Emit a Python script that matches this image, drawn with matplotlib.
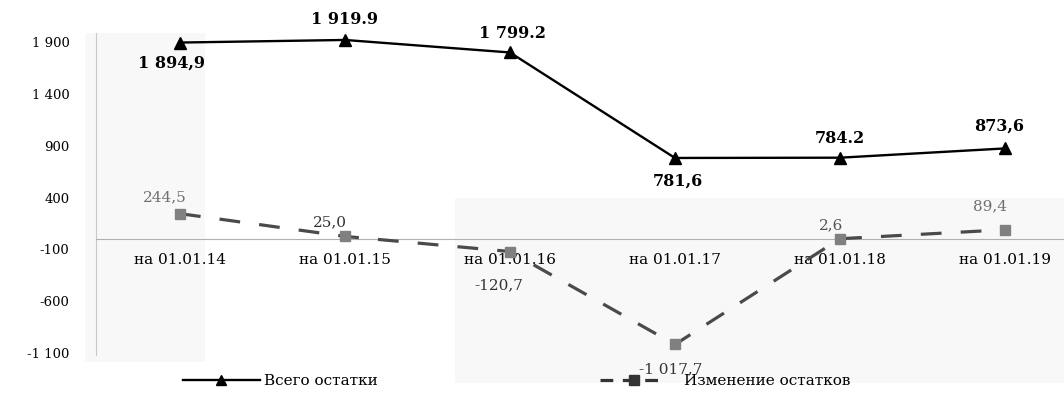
import matplotlib
matplotlib.use("Agg")
import matplotlib.pyplot as plt
from matplotlib.lines import Line2D
from matplotlib.patches import Rectangle

categories = ["на 01.01.14", "на 01.01.15", "на 01.01.16", "на 01.01.17", "на 01.01.18", "на 01.01.19"]
total = [1894.9, 1919.9, 1799.2, 781.6, 784.2, 873.6]
change = [244.5, 25.0, -120.7, -1017.7, 2.6, 89.4]
total_labels = ["1 894,9", "1 919.9", "1 799.2", "781,6", "784.2", "873,6"]
change_labels = ["244,5", "25,0", "-120,7", "-1 017,7", "2,6", "89,4"]
yticks = [1900, 1400, 900, 400, -100, -600, -1100]
ytick_labels = ["1 900", "1 400", "900", "400", "-100", "-600", "-1 100"]
series_names = ["Всего остатки", "Изменение остатков"]

plt.rcParams["font.family"] = ["DejaVu Serif", "Liberation Serif"]

W, H = 1064, 394
fig = plt.figure(figsize=(W / 100, H / 100), dpi=100)

# faint scan-like background panels
fig.patches.append(Rectangle((85 / W, 1 - 362 / H), 120 / W, 329 / H, transform=fig.transFigure,
                             facecolor="#f8f8f8", edgecolor="none", zorder=-5))
fig.patches.append(Rectangle((455 / W, 1 - 383 / H), (W - 455) / W, 185 / H, transform=fig.transFigure,
                             facecolor="#f8f8f8", edgecolor="none", zorder=-5))

ax = fig.add_axes([96 / W, 1 - 355 / H, (W - 96) / W, 322 / H])
ax.patch.set_alpha(0)

x = list(range(len(categories)))
ax.plot(x, total, color="black", lw=1.7, marker="^", ms=8, zorder=3)
ax.plot(x, change, color="#4a4a4a", lw=2.3, ls=(0, (6.5, 6)), marker="s", ms=7,
        markerfacecolor="#808080", markeredgecolor="#808080", zorder=3)

ax.set_xlim(-0.509, 5.358)
ax.set_ylim(-1119, 1987)
ax.set_yticks(yticks)
ax.set_yticklabels(ytick_labels)
ax.tick_params(axis="y", length=0, pad=19, labelsize=9.5)
ax.set_xticks(x)
ax.set_xticklabels(categories)
ax.tick_params(axis="x", length=0, pad=10, labelsize=11)

for s in ["top", "right"]:
    ax.spines[s].set_visible(False)
ax.spines["bottom"].set_position(("data", 0))
ax.spines["bottom"].set_color("#b0b0b0")
ax.spines["left"].set_color("#c8c8c8")

t_off = [(-6, -15), (0, 15), (2, 14), (2, -17), (0, 14), (-4, 16)]
for xi, v, lab, (dx, dy) in zip(x, total, total_labels, t_off):
    ax.annotate(lab, (xi, v), xytext=(dx, dy), textcoords="offset points",
                ha="center", va="center", fontsize=11.5, fontweight="bold", color="black")

c_off = [(-11, 12), (-11, 10), (-8, -24), (-3, -18), (-6, 10), (-11, 17)]
c_col = ["#707070", "#333333", "#333333", "#333333", "#555555", "#707070"]
for xi, v, lab, (dx, dy), col in zip(x, change, change_labels, c_off, c_col):
    ax.annotate(lab, (xi, v), xytext=(dx, dy), textcoords="offset points",
                ha="center", va="center", fontsize=11, color=col)

h1 = Line2D([], [], color="black", lw=1.7, marker="^", ms=7)
h2 = Line2D([], [], color="#333333", lw=2.3, ls=(0, (4, 3)), marker="s", ms=7,
            markerfacecolor="#333333")
fig.legend([h1], [series_names[0]], loc="center left", bbox_to_anchor=(177 / W, 1 - 381 / H),
           frameon=False, fontsize=11, handlelength=5.0, handletextpad=0.3, borderaxespad=0)
fig.legend([h2], [series_names[1]], loc="center left", bbox_to_anchor=(594 / W, 1 - 381 / H),
           frameon=False, fontsize=11, handlelength=4.4, handletextpad=1.1, borderaxespad=0)

fig.savefig("out.png", dpi=100)
